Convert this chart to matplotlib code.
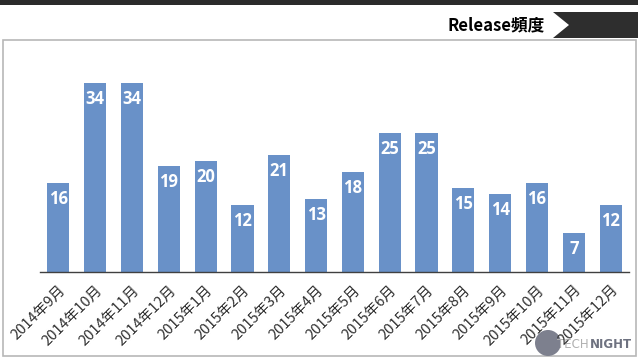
import matplotlib
matplotlib.use('Agg')
import matplotlib.pyplot as plt
from matplotlib.patches import Polygon, Rectangle, Circle

# data
months = ['2014年9月', '2014年10月', '2014年11月', '2014年12月',
          '2015年1月', '2015年2月', '2015年3月', '2015年4月',
          '2015年5月', '2015年6月', '2015年7月', '2015年8月',
          '2015年9月', '2015年10月', '2015年11月', '2015年12月']
releases = [16, 34, 34, 19, 20, 12, 21, 13, 18, 25, 25, 15, 14, 16, 7, 12]
title = 'Release頻度'

plt.rcParams['font.family'] = ['Noto Sans CJK JP', 'DejaVu Sans']

fig = plt.figure(figsize=(6.38, 3.59), dpi=100)
fig.patch.set_facecolor('white')

# background decorations in pixel coordinates
bg = fig.add_axes([0, 0, 1, 1])
bg.set_xlim(0, 638)
bg.set_ylim(359, 0)
bg.axis('off')
bg.add_patch(Rectangle((0, 0), 638, 5, color='#2b2b2b', lw=0))
bg.add_patch(Polygon([(553, 12), (638, 12), (638, 38), (553, 38), (569, 25)],
                     closed=True, color='#2e2e2e', lw=0))
bg.text(545, 25, title, ha='right', va='center', fontsize=12,
        fontweight='bold', color='black')
bg.add_patch(Rectangle((2.5, 40), 633.5, 316, fill=False,
                       edgecolor='#b8b8b8', lw=1.2))
# logo
bg.add_patch(Circle((548, 343), 13, color='#7d808e', lw=0, zorder=3))
bg.text(589, 344, 'TECH', ha='right', va='center', fontsize=8.5,
        color='#b0b0b0', family='DejaVu Sans', zorder=4)
bg.text(590, 344, 'NIGHT', ha='left', va='center', fontsize=8.5,
        fontweight='bold', color='#6e7280', family='DejaVu Sans', zorder=4)

# chart
ax = fig.add_axes([40 / 638, 0.2432, 589 / 638, 0.557])
ax.patch.set_alpha(0)
x = range(len(months))
bars = ax.bar(x, releases, width=0.6, color='#6991c8', zorder=2)
ax.set_xlim(-0.5, len(months) - 0.5)
ax.set_ylim(0, 36)

for b, v in zip(bars, releases):
    ax.annotate(str(v), (b.get_x() + b.get_width() / 2, v),
                xytext=(0, -11.5), textcoords='offset points',
                ha='center', va='center', color='white',
                fontsize=12, fontweight='bold', family='Open Sans')

for s in ['top', 'right', 'left']:
    ax.spines[s].set_visible(False)
ax.spines['bottom'].set_color('#404040')
ax.spines['bottom'].set_linewidth(1.0)
ax.set_yticks([])
ax.set_xticks(list(x))
ax.set_xticklabels(months, rotation=45, ha='right', rotation_mode='anchor',
                   fontsize=10.5, color='#303030')
ax.tick_params(axis='x', length=0, pad=8)

fig.savefig('out.png', dpi=100)
